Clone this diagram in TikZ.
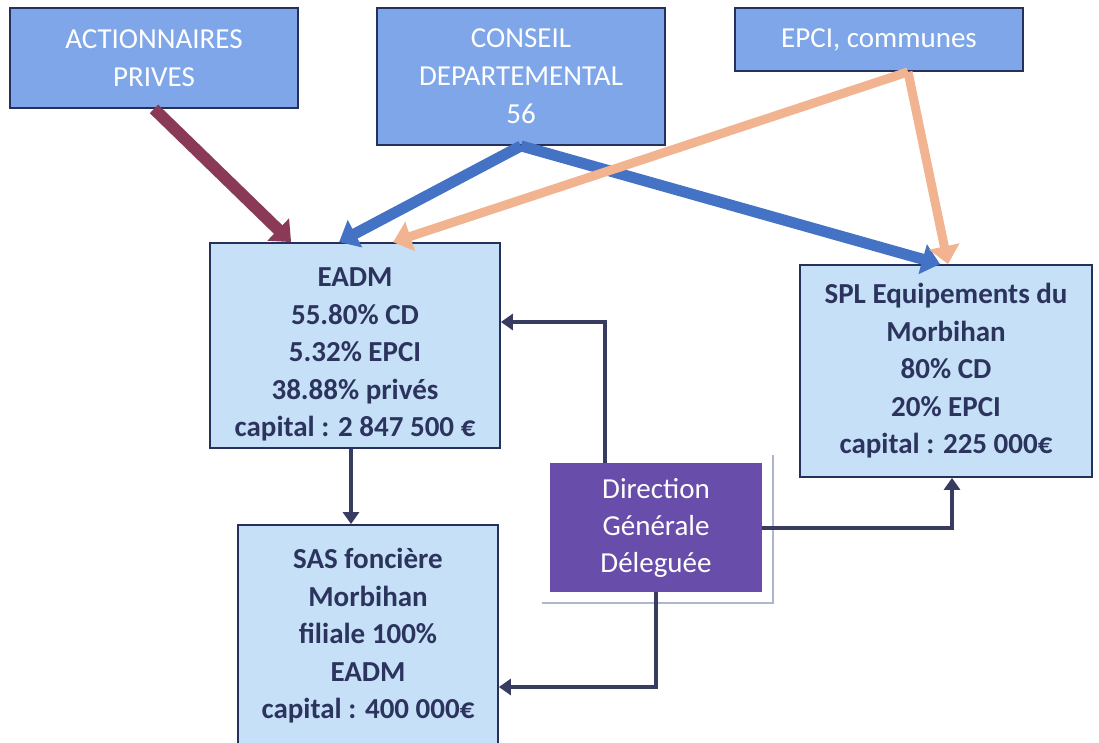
\documentclass[tikz,border=0pt]{standalone}
\usepackage{fontspec}
\setmainfont{Carlito}
\usetikzlibrary{arrows.meta,calc}

\begin{document}
\begin{tikzpicture}[x=1pt,y=1pt,yscale=-1,
  topbox/.style={draw={rgb, 255:red, 38; green, 48; blue, 92 }, line width=1.8pt,
    fill={rgb, 255:red, 126; green, 166; blue, 232 }, text=white, align=center,
    inner sep=0pt, font=\fontsize{29}{38}\selectfont},
  entity/.style={draw={rgb, 255:red, 38; green, 48; blue, 92 }, line width=1.8pt,
    fill={rgb, 255:red, 198; green, 224; blue, 248 }, text={rgb, 255:red, 44; green, 52; blue, 94 },
    align=center, inner sep=0pt, font=\fontsize{29}{37.5}\selectfont\bfseries},
  dirbox/.style={fill={rgb, 255:red, 104; green, 78; blue, 170 }, text=white, align=center,
    inner sep=0pt, font=\fontsize{29}{37}\selectfont},
  share/.style={line width=12pt, -{Triangle[length=18pt,width=30pt]}},
  link/.style={draw={rgb, 255:red, 55; green, 60; blue, 96 }, line width=4pt,
    -{Triangle[length=12pt,width=16pt]}}
]
\useasboundingbox (0,0) rectangle (1099,743);

%Shape: Rectangle [top row]
\node[topbox, minimum width=288pt, minimum height=100pt] (act) at (154,58) {ACTIONNAIRES\\PRIVES};
\node[topbox, minimum width=288pt, minimum height=137pt] (cd) at (521,76.5) {CONSEIL\\DEPARTEMENTAL\\56};
\node[topbox, minimum width=288pt, minimum height=63pt] (epci) at (879,39.5) {EPCI, communes};

%Shape: Rectangle [companies]
\node[entity, minimum width=290pt, minimum height=205pt] (eadm) at (355,345.5)
  {\rule{0pt}{37pt}EADM\\55.80\% CD\\5.32\% EPCI\\38.88\% privés\\capital : 2 847 500 €};
\node[entity, minimum width=292pt, minimum height=212pt] (spl) at (946,371)
  {SPL Equipements du\\Morbihan\\80\% CD\\20\% EPCI\\capital : 225 000€};
\node[entity, minimum width=260pt, minimum height=222pt] (sas) at (368,636)
  {SAS foncière\\Morbihan\\filiale 100\%\\EADM\\capital : 400 000€};

%Shape: Rectangle [direction]
\node[dirbox, minimum width=212pt, minimum height=129pt] (ddg) at (656,527.5)
  {Direction\\Générale\\Déleguée};
\draw[color={rgb, 255:red, 172; green, 182; blue, 204 }, line width=1.5pt]
  ([shift={(-8,11)}]ddg.south west) -| ([shift={(11,-8)}]ddg.north east);

%Straight Lines [shareholders]
\draw[share, color={rgb, 255:red, 138; green, 58; blue, 86 }] (act.south) -- ([xshift=82pt]eadm.north west);
\draw[share, line width=11pt, color={rgb, 255:red, 68; green, 114; blue, 196 }] (cd.south) -- ([xshift=130pt]eadm.north west);
\draw[share, line width=11pt, color={rgb, 255:red, 68; green, 114; blue, 196 }] (cd.south) -- ([xshift=-6pt]spl.north);
\draw[share, line width=9pt, color={rgb, 255:red, 242; green, 180; blue, 144 }] ([xshift=29pt]epci.south) -- ([xshift=184pt]eadm.north west);
\draw[share, line width=9pt, color={rgb, 255:red, 242; green, 180; blue, 144 }] ([xshift=29pt]epci.south) -- ([xshift=2pt]spl.north);

%Straight Lines [management]
\draw[link] ([xshift=-51pt]ddg.north) |- ([yshift=-23.5pt]eadm.east);
\draw[link] (ddg.east) -| ([xshift=6pt]spl.south);
\draw[link] (ddg.south) |- ([yshift=51pt]sas.east);
\draw[link] ([xshift=-4pt]eadm.south) -- ([xshift=-4pt]eadm.south |- sas.north);

\end{tikzpicture}
\end{document}
